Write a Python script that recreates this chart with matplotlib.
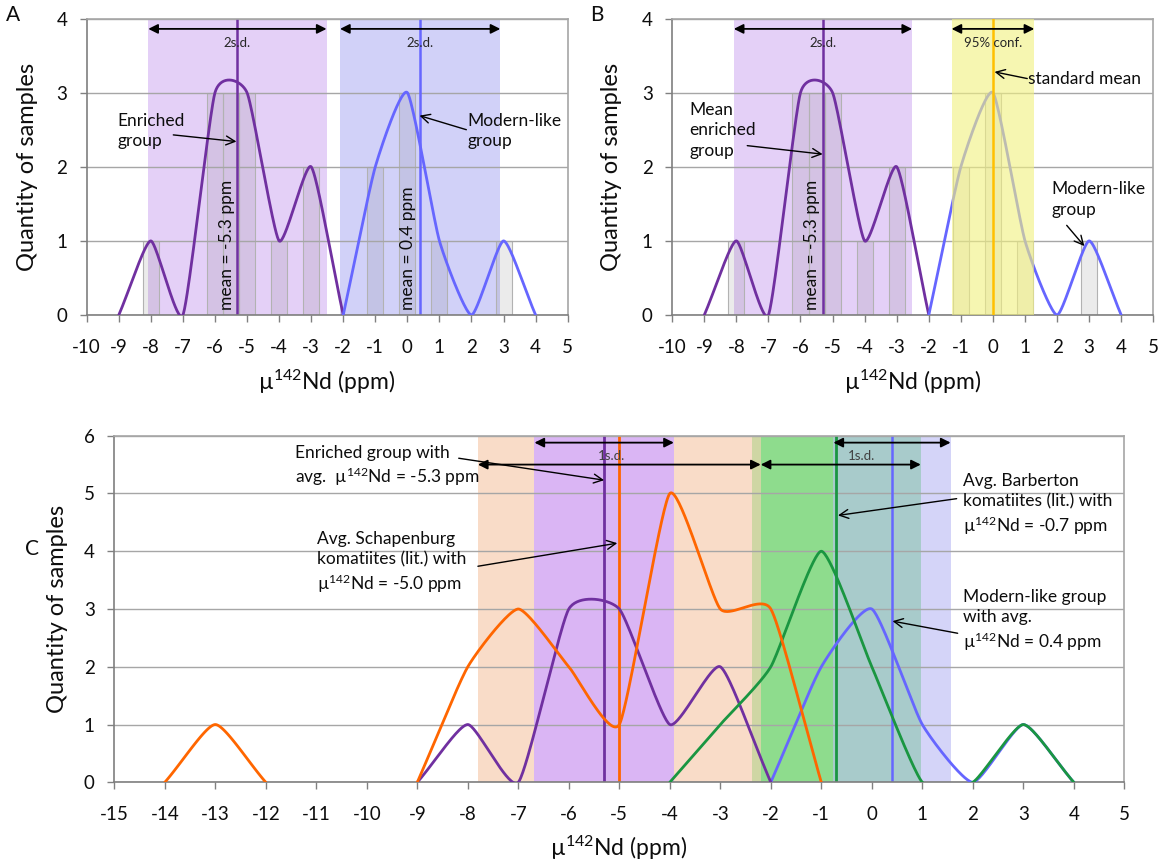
import numpy as np
import matplotlib.pyplot as plt

plt.rcParams['font.family'] = ['Lato', 'DejaVu Sans']
plt.rcParams['mathtext.default'] = 'regular'
plt.rcParams['axes.unicode_minus'] = False

# sample counts per mu142Nd value (ppm)
enriched_x = [-9, -8, -7, -6, -5, -4, -3, -2]
enriched_n = [0, 1, 0, 3, 3, 1, 2, 0]
modern_x = [-2, -1, 0, 1, 2, 3, 4]
modern_n = [0, 2, 3, 1, 0, 1, 0]
schap_x = [[-14, -13, -12], [-9, -8, -7, -6, -5, -4, -3, -2, -1]]
schap_n = [[0, 1, 0], [0, 2, 3, 2, 1, 5, 3, 3, 0]]
barb_x = [-4, -3, -2, -1, 0, 1, 2, 3, 4]
barb_n = [0, 1, 2, 4, 2, 0, 0, 1, 0]

# histogram bars behind the curves (panels A and B)
bar_x = [-8, -6, -5.5, -5, -4, -3, -1, 0, 1, 3]
bar_n = [1, 3, 3, 3, 1, 2, 2, 3, 1, 1]

# group statistics
enriched_mean, enriched_2sd, enriched_1sd = -5.3, 2.78, 1.38
modern_mean, modern_2sd, modern_1sd = 0.4, 2.5, 1.16
standard_mean, standard_conf = 0.0, 1.29
schap_mean, schap_sd = -5.0, 2.8
barb_mean, barb_sd = -0.7, 1.67

PURPLE = '#7030a0'
BLUE = '#6666ff'
ORANGE = '#ff6600'
GREEN = '#1a9641'
GOLD = '#ffc000'
INK = '#0d0d0d'
XLABEL = 'µ$^{142}$Nd (ppm)'


def smooth(xs, ys, k=0.27, n=40):
    # cardinal spline through the points, like a smoothed spreadsheet line
    p = np.column_stack([xs, ys]).astype(float)
    t = np.empty_like(p)
    t[1:-1] = k * (p[2:] - p[:-2])
    t[0] = p[1] - p[0]
    t[-1] = p[-1] - p[-2]
    s = np.linspace(0, 1, n)[:, None]
    h00 = 2 * s**3 - 3 * s**2 + 1
    h10 = s**3 - 2 * s**2 + s
    h01 = -2 * s**3 + 3 * s**2
    h11 = s**3 - s**2
    out = np.vstack([h00 * p[i] + h10 * t[i] + h01 * p[i + 1] + h11 * t[i + 1]
                     for i in range(len(p) - 1)])
    return out[:, 0], out[:, 1]


def style(ax, x0, x1, y1):
    ax.set_xlim(x0, x1)
    ax.set_ylim(0, y1)
    ax.set_xticks(range(x0, x1 + 1))
    ax.set_yticks(range(0, y1 + 1))
    ax.tick_params(direction='out', length=5, width=1, color='#808080',
                   labelsize=13.5, labelcolor=INK)
    ax.tick_params(axis='x', pad=12)
    ax.tick_params(axis='y', pad=9)
    ax.yaxis.grid(True, color='#a6a6a6', lw=1)
    ax.set_axisbelow(True)
    for side in ['left', 'bottom']:
        ax.spines[side].set_color('#7f7f7f')
        ax.spines[side].set_linewidth(1.2)
    for side in ['top', 'right']:
        ax.spines[side].set_color('#a6a6a6')
        ax.spines[side].set_linewidth(1.2)


def span_arrow(ax, lo, hi, y, lw=1.3):
    ax.annotate('', xy=(hi, y), xytext=(lo, y),
                arrowprops=dict(arrowstyle='<|-|>', color='black', lw=lw,
                                mutation_scale=14, shrinkA=0, shrinkB=0),
                zorder=6)


def pointer(ax, tail, tip):
    ax.annotate('', xy=tip, xytext=tail,
                arrowprops=dict(arrowstyle='->', color='black', lw=1,
                                mutation_scale=16, shrinkA=0, shrinkB=0),
                zorder=6)


def curve(ax, xs, ys, color, z=3, lw=2):
    sx, sy = smooth(xs, ys)
    ax.plot(sx, sy, color=color, lw=lw, zorder=z, solid_capstyle='round')


def bars(ax):
    ax.bar(bar_x, bar_n, width=0.5, color=(0.45, 0.45, 0.45, 0.14),
           edgecolor='#b2b2b2', lw=0.8, zorder=0.4)


fig = plt.figure(figsize=(11.64, 8.65), dpi=100)
axA = fig.add_axes([0.0745, 0.6358, 0.4132, 0.3428])
axB = fig.add_axes([0.5775, 0.6358, 0.4133, 0.3428])
axC = fig.add_axes([0.0982, 0.0956, 0.8677, 0.4007])

# ---------------- panel A ----------------
ax = axA
style(ax, -10, 5, 4)
ax.axvspan(enriched_mean - enriched_2sd, enriched_mean + enriched_2sd,
           color='#e4d0f7', lw=0, zorder=0.2)
ax.axvspan(modern_mean - modern_2sd, modern_mean + modern_2sd,
           color='#d1d1f8', lw=0, zorder=0.2)
bars(ax)
ax.axvline(enriched_mean, color=PURPLE, lw=1.8, zorder=2.5)
ax.axvline(modern_mean, color=BLUE, lw=1.8, zorder=2.5)
curve(ax, enriched_x, enriched_n, PURPLE)
curve(ax, modern_x, modern_n, BLUE)
span_arrow(ax, enriched_mean - enriched_2sd, enriched_mean + enriched_2sd, 3.86)
span_arrow(ax, modern_mean - modern_2sd, modern_mean + modern_2sd, 3.86)
ax.text(enriched_mean, 3.67, '2s.d.', ha='center', va='center', fontsize=9.5, color='#262626')
ax.text(modern_mean, 3.67, '2s.d.', ha='center', va='center', fontsize=9.5, color='#262626')
ax.text(enriched_mean - 0.34, 0.07, 'mean = -5.3 ppm', rotation=90,
        ha='center', va='bottom', fontsize=12.5, color=INK)
ax.text(modern_mean - 0.38, 0.07, 'mean = 0.4 ppm', rotation=90,
        ha='center', va='bottom', fontsize=12.5, color=INK)
ax.text(-9.05, 2.48, 'Enriched\ngroup', ha='left', va='center',
        fontsize=12.5, linespacing=1.35, color=INK)
pointer(ax, (-7.30, 2.43), (-5.33, 2.34))
ax.text(1.87, 2.48, 'Modern-like\ngroup', ha='left', va='center',
        fontsize=12.5, linespacing=1.35, color=INK)
pointer(ax, (1.84, 2.50), (0.38, 2.69))

# ---------------- panel B ----------------
ax = axB
style(ax, -10, 5, 4)
ax.axvspan(enriched_mean - enriched_2sd, enriched_mean + enriched_2sd,
           color='#e4d0f7', lw=0, zorder=0.2)
bars(ax)
ax.axvline(enriched_mean, color=PURPLE, lw=1.8, zorder=2.5)
curve(ax, enriched_x, enriched_n, PURPLE)
curve(ax, modern_x, modern_n, BLUE)
ax.axvspan(standard_mean - standard_conf, standard_mean + standard_conf,
           color='#f2f181', alpha=0.62, lw=0, zorder=3.5)
ax.axvline(standard_mean, color=GOLD, lw=1.8, zorder=4)
span_arrow(ax, enriched_mean - enriched_2sd, enriched_mean + enriched_2sd, 3.86)
span_arrow(ax, standard_mean - standard_conf, standard_mean + standard_conf, 3.86)
ax.text(enriched_mean, 3.67, '2s.d.', ha='center', va='center', fontsize=9.5, color='#262626')
ax.text(standard_mean, 3.67, '95% conf.', ha='center', va='center', fontsize=9.5,
        color='#262626', zorder=6)
ax.text(enriched_mean - 0.35, 0.07, 'mean = -5.3 ppm', rotation=90,
        ha='center', va='bottom', fontsize=12.5, color=INK)
ax.text(-9.46, 2.49, 'Mean\nenriched\ngroup', ha='left', va='center',
        fontsize=12.5, linespacing=1.35, color=INK)
pointer(ax, (-7.66, 2.285), (-5.31, 2.17))
ax.text(1.1, 3.18, 'standard mean', ha='left', va='center', fontsize=12.5,
        color=INK, zorder=6)
pointer(ax, (1.07, 3.19), (0.05, 3.28))
ax.text(1.83, 1.56, 'Modern-like\ngroup', ha='left', va='center',
        fontsize=12.5, linespacing=1.35, color=INK)
pointer(ax, (2.30, 1.21), (2.85, 0.93))

# ---------------- panel C ----------------
ax = axC
style(ax, -15, 5, 6)


def overlap(a, b):
    lo, hi = max(a[0], b[0]), min(a[1], b[1])
    return (lo, hi) if lo < hi else None


schap_band = (schap_mean - schap_sd, schap_mean + schap_sd)
barb_band = (barb_mean - barb_sd, barb_mean + barb_sd)
enr_band = (enriched_mean - enriched_1sd, enriched_mean + enriched_1sd)
mod_band = (modern_mean - modern_1sd, modern_mean + modern_1sd)

ax.axvspan(*schap_band, color='#f9dcc8', lw=0, zorder=0.1)
ax.axvspan(*barb_band, color='#8edc8d', lw=0, zorder=0.15)
ax.axvspan(*mod_band, color='#d4d4f8', lw=0, zorder=0.12)
ax.axvspan(*enr_band, color='#dab5f4', lw=0, zorder=0.2)
ov = overlap(schap_band, barb_band)
if ov:
    ax.axvspan(*ov, color='#cfd6a4', lw=0, zorder=0.25)
ov = overlap(barb_band, mod_band)
if ov:
    ax.axvspan(*ov, color='#a8cbcb', lw=0, zorder=0.25)

ax.axvline(enriched_mean, color=PURPLE, lw=2, zorder=2.5)
ax.axvline(schap_mean, color=ORANGE, lw=2, zorder=2.5)
ax.axvline(barb_mean, color=GREEN, lw=2, zorder=2.5)
ax.axvline(modern_mean, color=BLUE, lw=1.8, zorder=2.5)

curve(ax, modern_x, modern_n, BLUE, z=3)
curve(ax, enriched_x, enriched_n, PURPLE, z=3.1)
curve(ax, barb_x, barb_n, GREEN, z=3.2)
for xs, ns in zip(schap_x, schap_n):
    curve(ax, xs, ns, ORANGE, z=3.3)

span_arrow(ax, *enr_band, 5.88)
span_arrow(ax, *mod_band, 5.88)
span_arrow(ax, *schap_band, 5.5)
span_arrow(ax, schap_band[1], barb_band[1], 5.5)
ax.text(enriched_mean + 0.15, 5.65, '1s.d.', ha='center', va='center',
        fontsize=9.5, color='#404040', zorder=6)
ax.text(modern_mean - 0.6, 5.65, '1s.d.', ha='center', va='center',
        fontsize=9.5, color='#404040', zorder=6)

ax.text(-11.42, 5.465, 'Enriched group with\navg.  µ$^{142}$Nd = -5.3 ppm',
        ha='left', va='center', fontsize=12.5, linespacing=1.3, color=INK)
pointer(ax, (-8.18, 5.61), (enriched_mean, 5.23))
ax.text(-10.98, 3.8, 'Avg. Schapenburg\nkomatiites (lit.) with\nµ$^{142}$Nd = -5.0 ppm',
        ha='left', va='center', fontsize=12.5, linespacing=1.3, color=INK)
pointer(ax, (-7.80, 3.74), (schap_mean - 0.04, 4.14))
ax.text(1.81, 4.8, 'Avg. Barberton\nkomatiites (lit.) with\nµ$^{142}$Nd = -0.7 ppm',
        ha='left', va='center', fontsize=12.5, linespacing=1.3, color=INK)
pointer(ax, (1.68, 4.91), (barb_mean + 0.03, 4.62))
ax.text(1.81, 2.79, 'Modern-like group\nwith avg.\nµ$^{142}$Nd = 0.4 ppm',
        ha='left', va='center', fontsize=12.5, linespacing=1.3, color=INK)
pointer(ax, (1.70, 2.58), (modern_mean + 0.01, 2.79))

# axis titles and panel letters
for x, y in [(28, 167), (611, 167), (58, 609)]:
    fig.text(x / 1164, 1 - y / 865, 'Quantity of samples', rotation=90,
             ha='center', va='center', fontsize=17, color=INK)
for x, y in [(327, 382), (913, 382), (619, 848)]:
    fig.text(x / 1164, 1 - y / 865, XLABEL, ha='center', va='center',
             fontsize=16.5, color=INK)
for x, y, s in [(13, 15, 'A'), (597, 15, 'B'), (32, 549, 'C')]:
    fig.text(x / 1164, 1 - y / 865, s, ha='center', va='center',
             fontsize=15, color=INK)

fig.savefig('out.png', dpi=100)
